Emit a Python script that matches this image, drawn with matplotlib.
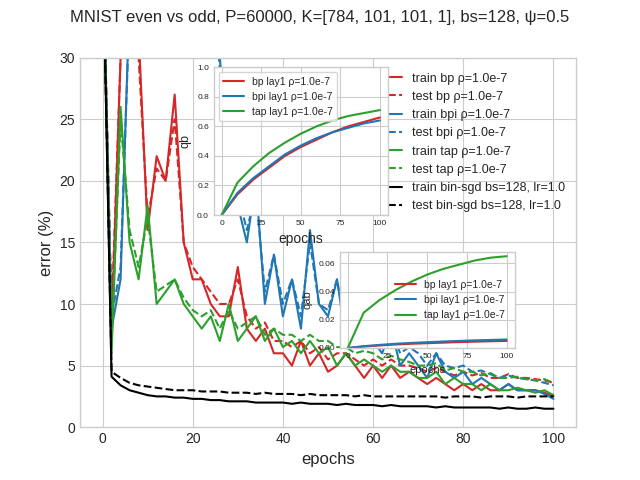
import matplotlib
matplotlib.use("Agg")
import matplotlib.pyplot as plt
import numpy as np

plt.style.use("seaborn-v0_8-whitegrid")

epochs = np.arange(0, 101, 2)
train_bp = [40, 8, 30, 35, 32, 16, 22, 20, 27, 15, 12, 12, 10, 9, 9, 13, 8, 7, 8, 6, 6, 5, 7, 5, 6, 4.5,
            5, 6, 5, 4, 5, 4, 5, 4, 4.5, 4, 3.5, 4, 3.5, 3, 3.5, 3, 3.5, 3, 3, 3.5, 3, 3, 3, 2.8, 2.5]
test_bp = [40, 9, 30, 34, 30, 17, 21, 20, 25, 15, 13, 12, 11, 10, 10, 12, 9, 8, 8.5, 7, 7, 6.5, 7, 6, 6.5, 5.5,
           6, 6, 5.5, 5, 5.5, 5, 5.5, 5, 5, 4.8, 4.5, 4.8, 4.5, 4.2, 4.5, 4.2, 4.4, 4, 4, 4.3, 4, 4, 3.9, 3.8, 3.6]
train_bpi = [40, 8, 12, 35, 40, 40, 40, 40, 40, 40, 40, 40, 40, 30, 22, 18, 15, 20, 10, 14, 9, 12, 8, 16, 10, 9,
             12, 7, 8, 10, 7, 6, 8, 5, 6, 5, 4, 6, 4.5, 4, 4.5, 3.5, 4, 3.5, 3, 3.5, 3, 3, 3, 2.7, 2.3]
test_bpi = [40, 9, 13, 34, 40, 40, 40, 40, 40, 40, 40, 40, 40, 29, 23, 19, 16, 19, 11, 14, 10, 12, 9, 15, 10, 9.5,
            12, 8, 8.5, 10, 7.5, 7, 8, 6, 6.5, 6, 5, 6, 5, 4.8, 5, 4.5, 4.6, 4.3, 4, 4.2, 4, 3.9, 3.8, 3.6, 3.4]
train_tap = [40, 6, 26, 15, 12, 18, 10, 11, 12, 10, 9, 8, 9, 7, 10, 7, 8, 9, 7, 8, 6.5, 7, 6, 7, 6, 6.5,
             5, 6, 5, 5.5, 5, 4.5, 5, 4.5, 4.5, 4, 4, 4.5, 3.5, 4, 3.5, 3.5, 3, 3.5, 3, 3, 3.2, 3, 2.8, 3, 2.6]
test_tap = [40, 7, 25, 16, 13, 17, 11, 11.5, 12, 10.5, 9.5, 9, 9.5, 8, 9.5, 8, 8.5, 9, 7.5, 8, 7.5, 7.5, 7, 7.5, 7, 7,
            6.5, 6.5, 6, 6.2, 6, 5.5, 5.8, 5.5, 5.3, 5, 5, 5.2, 4.6, 4.8, 4.5, 4.5, 4.2, 4.4, 4, 4, 4.1, 3.9, 3.8, 3.9, 3.6]
train_bin = [40, 4.1, 3.4, 3.0, 2.8, 2.6, 2.5, 2.5, 2.4, 2.4, 2.3, 2.3, 2.2, 2.2, 2.1, 2.1, 2.1, 2.0, 2.0, 2.0, 2.0,
             1.9, 2.0, 1.9, 1.9, 1.9, 1.8, 1.9, 1.8, 1.8, 1.8, 1.7, 1.8, 1.7, 1.7, 1.7, 1.7, 1.6, 1.7, 1.6, 1.6,
             1.6, 1.6, 1.6, 1.5, 1.6, 1.5, 1.5, 1.6, 1.5, 1.5]
test_bin = [40, 4.5, 4.0, 3.6, 3.4, 3.3, 3.2, 3.1, 3.0, 3.0, 3.0, 2.9, 2.9, 2.9, 2.8, 2.8, 2.8, 2.7, 2.8, 2.7, 2.7,
            2.7, 2.6, 2.7, 2.6, 2.6, 2.6, 2.6, 2.5, 2.6, 2.5, 2.5, 2.5, 2.5, 2.5, 2.5, 2.5, 2.5, 2.4, 2.5, 2.5,
            2.5, 2.4, 2.5, 2.5, 2.5, 2.4, 2.5, 2.5, 2.5, 2.5]

ins_ep = np.arange(0, 101, 10)
qb_bp = [0, 0.14, 0.24, 0.32, 0.40, 0.46, 0.51, 0.56, 0.60, 0.63, 0.66]
qb_bpi = [0, 0.15, 0.25, 0.33, 0.41, 0.47, 0.52, 0.56, 0.59, 0.62, 0.64]
qb_tap = [0, 0.22, 0.33, 0.42, 0.49, 0.55, 0.60, 0.64, 0.67, 0.69, 0.71]
qab_bp = [0, 0.001, 0.0018, 0.0025, 0.003, 0.0034, 0.0038, 0.0042, 0.0045, 0.0048, 0.005]
qab_bpi = [0, 0.0013, 0.0022, 0.003, 0.0036, 0.0041, 0.0046, 0.005, 0.0054, 0.0057, 0.006]
qab_tap = [0, 0.025, 0.034, 0.041, 0.047, 0.052, 0.056, 0.059, 0.062, 0.064, 0.065]
ins_ticks = [0, 25, 50, 75, 100]

red, blue, green = "#d62728", "#1f77b4", "#2ca02c"
rho = "ρ=1.0e-7"

fig = plt.figure(figsize=(6.4, 4.8))
ax = fig.add_subplot(111)
ax.plot(epochs, train_bp, "-", color=red, label="train bp " + rho)
ax.plot(epochs, test_bp, "--", color=red, label="test bp " + rho)
ax.plot(epochs, train_bpi, "-", color=blue, label="train bpi " + rho)
ax.plot(epochs, test_bpi, "--", color=blue, label="test bpi " + rho)
ax.plot(epochs, train_tap, "-", color=green, label="train tap " + rho)
ax.plot(epochs, test_tap, "--", color=green, label="test tap " + rho)
ax.plot(epochs, train_bin, "-", color="black", label="train bin-sgd bs=128, lr=1.0")
ax.plot(epochs, test_bin, "--", color="black", label="test bin-sgd bs=128, lr=1.0")
ax.set_ylim(0, 30)
ax.set_xlabel("epochs", fontsize=12)
ax.set_ylabel("error (%)", fontsize=12)
ax.legend(loc="upper right", fontsize=9, frameon=False, bbox_to_anchor=(1.0, 0.99))
fig.suptitle("MNIST even vs odd, P=60000, K=[784, 101, 101, 1], bs=128, ψ=0.5")

a1 = fig.add_axes([0.334, 0.552, 0.272, 0.308])
a1.plot(ins_ep, qb_bp, color=red, label="bp lay1 " + rho)
a1.plot(ins_ep, qb_bpi, color=blue, label="bpi lay1 " + rho)
a1.plot(ins_ep, qb_tap, color=green, label="tap lay1 " + rho)
a1.set_ylim(0, 1.0)
a1.set_xticks(ins_ticks)
a1.set_xlabel("epochs", fontsize=10)
a1.set_ylabel("qb", fontsize=9)
a1.tick_params(labelsize=6)
a1.legend(loc="upper left", fontsize=7.5, frameon=True)

a2 = fig.add_axes([0.531, 0.275, 0.273, 0.2])
a2.plot(ins_ep, qab_bp, color=red, label="bp lay1 " + rho)
a2.plot(ins_ep, qab_bpi, color=blue, label="bpi lay1 " + rho)
a2.plot(ins_ep, qab_tap, color=green, label="tap lay1 " + rho)
a2.set_ylim(0, 0.068)
a2.set_xticks(ins_ticks)
a2.set_xlabel("epochs", fontsize=8)
a2.set_ylabel("qab", fontsize=8)
a2.tick_params(labelsize=6)
a2.legend(loc="center right", fontsize=7.5, frameon=False)

fig.savefig("out.png", dpi=100)
